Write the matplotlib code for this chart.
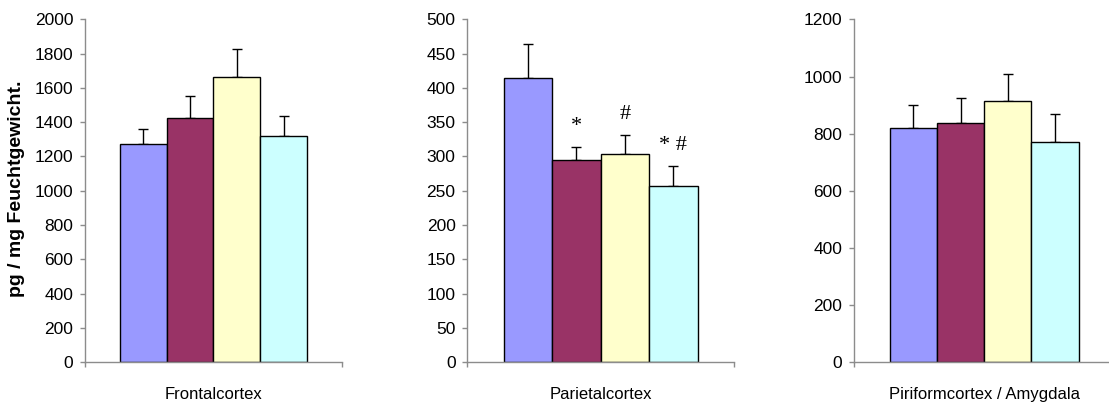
import matplotlib
matplotlib.use("Agg")
import matplotlib.pyplot as plt
import numpy as np

#%% Data (mean and upper error per group)
regions = ["Frontalcortex", "Parietalcortex", "Piriformcortex / Amygdala"]

front_mean = [1275, 1424, 1663, 1318]
front_err = [87, 127, 164, 116]

pariet_mean = [414, 295, 304, 257]
pariet_err = [50, 19, 28, 29]
pariet_marks = ["", "*", "#", "* #"]

piri_mean = [821, 837, 915, 772]
piri_err = [80, 89, 93, 98]

y_max = [2000, 500, 1200]
y_step = [200, 50, 200]

bar_colors = ["#9999FF", "#993366", "#FFFFCC", "#CCFFFF"]
ylabel = "pg / mg Feuchtgewicht."

#%% Figure
plt.rcParams["font.family"] = ["Liberation Sans", "DejaVu Sans"]
fig = plt.figure(figsize=(11.09, 4.03), dpi=100)

# axes positions in figure fractions (left, bottom, width, height)
boxes = [(0.0766, 0.1017, 0.2317, 0.850),
         (0.4214, 0.1017, 0.2405, 0.850),
         (0.7703, 0.1017, 0.2342, 0.850)]

means = [front_mean, pariet_mean, piri_mean]
errs = [front_err, pariet_err, piri_err]
grey = "#8c8c8c"

for i in range(3):
    ax = fig.add_axes(boxes[i])
    x = np.arange(4)
    ax.bar(x, means[i], width=1.0, color=bar_colors, edgecolor="black",
           linewidth=1.0, zorder=2)
    ax.errorbar(x, means[i], yerr=[np.zeros(4), errs[i]], fmt="none",
                ecolor="black", elinewidth=1.0, capsize=3.6, capthick=1.0,
                zorder=1)
    ax.set_xlim(-1.25, 4.25)
    ax.set_ylim(0, y_max[i])
    ax.set_yticks(np.arange(0, y_max[i] + 1, y_step[i]))
    ax.set_xticks([-1.25, 4.25])
    ax.set_xticklabels(["", ""])
    for s in ["top", "right"]:
        ax.spines[s].set_visible(False)
    for s in ["left", "bottom"]:
        ax.spines[s].set_color(grey)
        ax.spines[s].set_linewidth(1.0)
    ax.tick_params(axis="y", direction="out", length=3.5, width=1.0,
                   color=grey, pad=5, labelsize=12.5)
    ax.tick_params(axis="x", direction="out", length=3.5, width=1.0,
                   color=grey)
    ax.set_xlabel(regions[i], fontsize=12, labelpad=11)
    ax.patch.set_alpha(0)

    if i == 1:
        for k, m in enumerate(pariet_marks):
            if m:
                ax.text(k, means[i][k] + errs[i][k] + 30, m,
                        ha="center", va="center", fontsize=16,
                        family=["Liberation Serif", "DejaVu Serif"])

fig.text(17 / 1109, 0.531, ylabel, rotation=90, ha="center", va="center",
         fontsize=14, fontweight="bold")

fig.savefig("out.png", dpi=100)
